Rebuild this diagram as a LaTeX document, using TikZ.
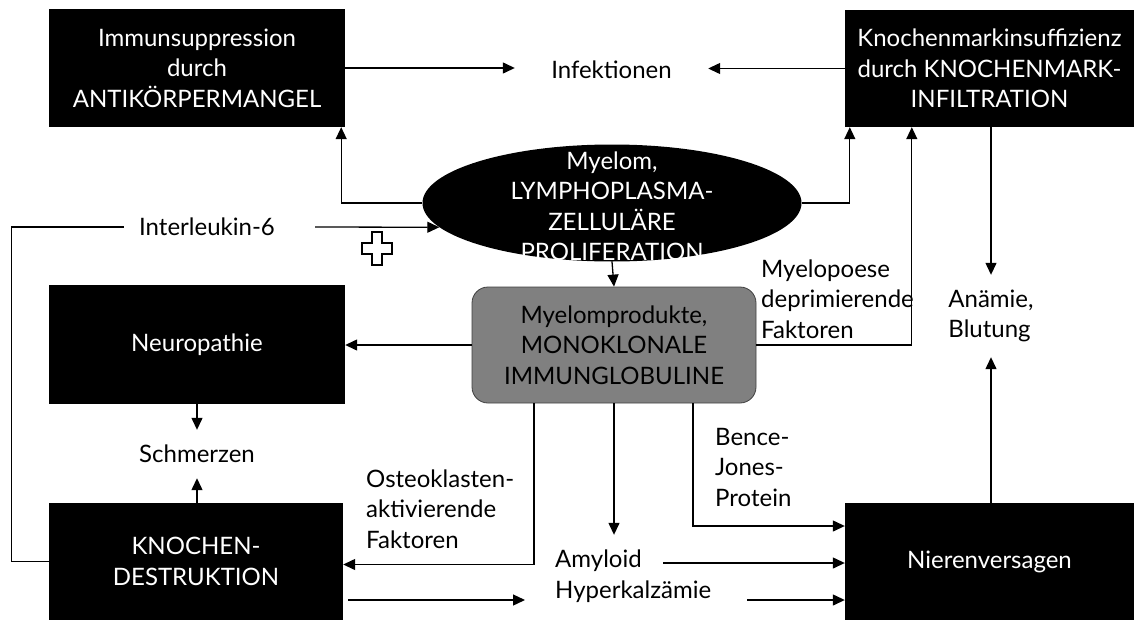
\documentclass[tikz,border=0pt]{standalone}
\usepackage{fontspec}
\setmainfont{Lato}
\usetikzlibrary{arrows.meta,shapes.geometric,calc}

\begin{document}
\begin{tikzpicture}[x=1pt,y=-1pt,
  every node/.style={font=\fontsize{24}{30.5}\selectfont, inner sep=0pt},
  box/.style={fill=black, text=white, align=center},
  lbl/.style={align=left, anchor=west},
  ln/.style={line width=1.3pt},
  arr/.style={line width=1.3pt, -{Triangle[length=12pt,width=11pt]}}]

% canvas
\fill[white] (0,0) rectangle (1134,621);
\useasboundingbox (0,0) rectangle (1134,621);

% black boxes
\node[box, minimum width=296pt, minimum height=118pt] (immun) at (197,68)
  {Immunsuppression\\durch\\ANTIKÖRPERMANGEL};
\node[box, minimum width=289pt, minimum height=117pt] (knmark) at (989.5,68.5)
  {Knochenmarkinsuffizienz\\durch KNOCHENMARK-\\INFILTRATION};
\node[box, minimum width=296pt, minimum height=119pt] (neuro) at (197,344.5)
  {Neuropathie};
\node[box, minimum width=294pt, minimum height=117pt] (knochen) at (196,561.5)
  {KNOCHEN-\\DESTRUKTION};
\node[box, minimum width=289pt, minimum height=117pt] (nieren) at (989.5,561.5)
  {Nierenversagen};

% central ellipse and product box
\node[ellipse, fill=black, minimum width=379pt, minimum height=117pt] (myelom) at (612,203) {};
\node[text=white, align=center] (myelomtxt) at (612,206)
  {Myelom,\\LYMPHOPLASMA-\\ZELLULÄRE\\PROLIFERATION};
\node[draw=black!75, line width=0.8pt, fill=black!50, rounded corners=16pt,
      minimum width=284pt, minimum height=116pt, align=center] (gray) at (614,345)
  {Myelomprodukte,\\MONOKLONALE\\IMMUNGLOBULINE};

% plain labels
\node[minimum width=193pt] (infekt) at (611.5,70) {Infektionen};
\node (il6) at (207,227) {Interleukin-6};
\node[minimum height=48pt] (schmerz) at (197,454) {Schmerzen};
\node[align=left, minimum height=82pt] (anaemia) at (991,316) {Anämie,\\Blutung};
\node[lbl, minimum height=82pt] (ahk) at (555,576) {Amyloid\\Hyperkalzämie};
\node[lbl] (osteo) at (366,509) {Osteoklasten-\\aktivierende\\Faktoren};
\node[lbl] (bence) at (715,467) {Bence-\\Jones-\\Protein};
\node[lbl] (myelopo) at (761,299) {Myelopoese\\deprimierende\\Faktoren};

% free arrow ends beside the Amyloid / Hyperkalzaemie labels
\coordinate (hkL) at (525,600);
\coordinate (hkR) at (747,600);
\coordinate (amR) at (663,563);

% plus sign
\draw[line width=1.2pt] (372,232) -- (382,232) -- (382,243) -- (392,243) -- (392,254)
  -- (382,254) -- (382,265) -- (372,265) -- (372,254) -- (362,254) -- (362,243)
  -- (372,243) -- cycle;

% connectors
\draw[arr] (immun.east) -- (immun.east -| infekt.west);
\draw[arr] (knmark.west) -- (knmark.west -| infekt.east);
\draw[arr] (myelom.west) -| ([xshift=-4pt]immun.south east);
\draw[arr] (myelom.east) -| ([xshift=5pt]knmark.south west);
\draw[ln] (knochen.west) -- ++(-37,0) |- ([xshift=-15pt]il6.west);
\draw[arr] ([xshift=40pt]il6.east) -- (myelom.188);
\draw[arr] (myelom.south) -- (gray.north);
\draw[arr] (gray.west) -- (gray.west -| neuro.east);
\draw[arr] (neuro.south -| schmerz.north) -- (schmerz.north);
\draw[arr] (knochen.north -| schmerz.south) -- (schmerz.south);
\draw[arr] ([xshift=-80pt]gray.south) |- ([yshift=-3pt]knochen.east);
\draw[arr] ([xshift=5pt]knochen.east |- hkL) -- (hkL);
\draw[arr] (gray.south) -- (gray.south |- ahk.north);
\draw[arr] ([xshift=79pt]gray.south) |- ([yshift=35.5pt]nieren.west);
\draw[arr] (amR) -- (amR -| nieren.west);
\draw[arr] (hkR) -- (hkR -| nieren.west);
\draw[arr] (nieren.north -| anaemia.south) -- (anaemia.south);
\draw[arr] (knmark.south -| anaemia.north) -- (anaemia.north);
\draw[arr] (gray.east) -| ([xshift=67pt]knmark.south west);
\end{tikzpicture}
\end{document}
